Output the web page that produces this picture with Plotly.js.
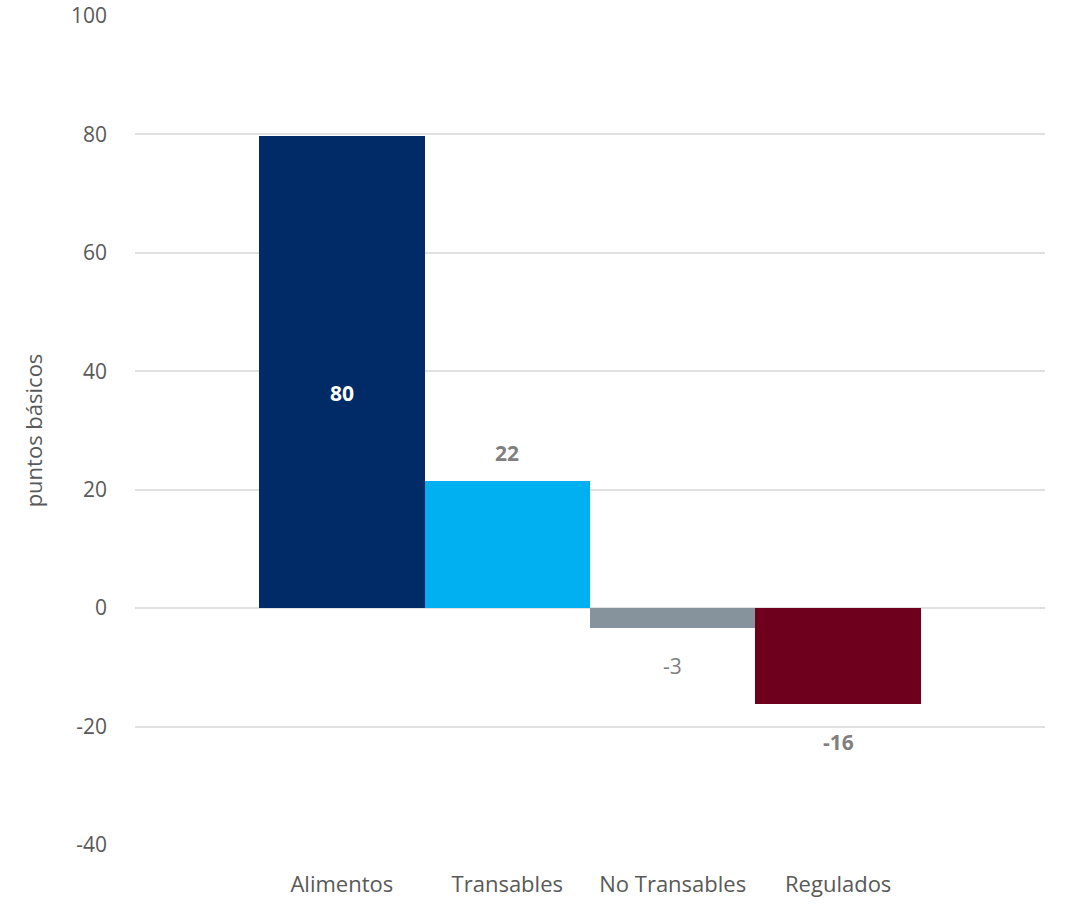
<!DOCTYPE html>
<html>
<head>
<meta charset="utf-8">
<script src="https://cdn.plot.ly/plotly-3.0.1.min.js"></script>
<style>html,body{margin:0;padding:0;background:#fff;}#chart{width:1066px;height:909px;}</style>
</head>
<body>
<div id="chart"></div>
<script>
var categories = ["Alimentos", "Transables", "No Transables", "Regulados"];
var values = [79.7, 21.5, -3.4, -16.2];
var labels = ["80", "22", "-3", "-16"];
var colors = ["#002B66", "#00B0F0", "#87939C", "#6E001E"];
var yTicks = [-40, -20, 0, 20, 40, 60, 80, 100];

var FONT = "'Open Sans', Lato, sans-serif";

var trace = {
  type: "bar",
  x: categories,
  y: values,
  marker: {color: colors},
  hoverinfo: "none"
};

var annotations = categories.map(function (c, i) {
  var v = values[i];
  if (i === 0) {
    return {x: c, y: v / 2, text: "<b>" + labels[i] + "</b>", showarrow: false,
      yshift: -21, font: {family: FONT, size: 21, color: "#FFFFFF"}};
  }
  return {x: c, y: v, text: (i === 2 ? labels[i] : "<b>" + labels[i] + "</b>"), showarrow: false,
    yshift: v >= 0 ? 28 : -38, font: {family: FONT, size: 21, color: "#808080"}};
});

var layout = {
  width: 1066, height: 909,
  margin: {l: 135, r: 21, t: 16, b: 64},
  paper_bgcolor: "#fff", plot_bgcolor: "#fff",
  showlegend: false,
  bargap: 0,
  font: {family: FONT, color: "#595959"},
  xaxis: {
    range: [-1.25, 4.25], showgrid: false, showline: false, zeroline: false,
    tickfont: {family: FONT, size: 22, color: "#595959"},
    ticks: "", ticklabelstandoff: 24, fixedrange: true
  },
  yaxis: {
    range: [-40, 100], tickvals: yTicks, ticktext: yTicks.map(String),
    showgrid: true, gridcolor: "#E0E0E0", gridwidth: 2,
    zeroline: true, zerolinecolor: "#E0E0E0", zerolinewidth: 2,
    showline: false, ticks: "", ticklabelstandoff: 27,
    tickfont: {family: FONT, size: 21, color: "#595959"},
    title: {text: "puntos básicos", standoff: 22, font: {family: FONT, size: 22, color: "#595959"}},
    fixedrange: true
  },
  annotations: annotations
};

Plotly.newPlot("chart", [trace], layout, {displayModeBar: false, staticPlot: true});
</script>
</body>
</html>
